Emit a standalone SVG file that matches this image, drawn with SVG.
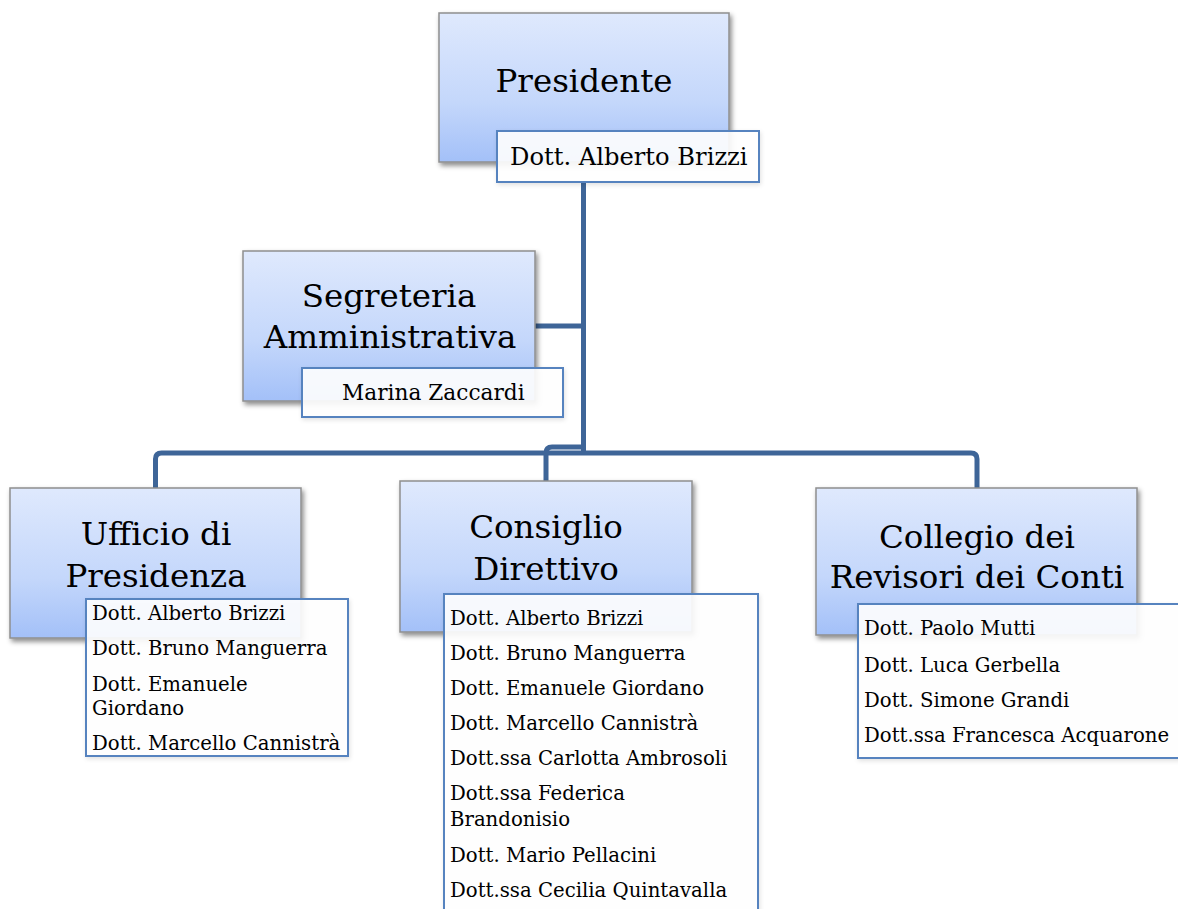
<svg xmlns="http://www.w3.org/2000/svg" width="1178" height="909" viewBox="0 0 1178 909">
<defs>
<linearGradient id="g" x1="0" y1="0" x2="0" y2="1">
<stop offset="0" stop-color="#dfe9fd"/>
<stop offset="0.6" stop-color="#c4d7fb"/>
<stop offset="1" stop-color="#a3c0f8"/>
</linearGradient>
<filter id="sh" x="-10%" y="-10%" width="125%" height="130%">
<feDropShadow dx="2" dy="3" stdDeviation="2.5" flood-color="#000" flood-opacity="0.45"/>
</filter>
<filter id="sh2" x="-10%" y="-10%" width="125%" height="130%">
<feDropShadow dx="1" dy="2" stdDeviation="2" flood-color="#000" flood-opacity="0.12"/>
</filter>
</defs>
<style>
.box{fill:url(#g);stroke:#8f8f8f;stroke-width:1.5;filter:url(#sh)}
.lbl{fill:#ffffff;fill-opacity:0.9;stroke:#5683bf;stroke-width:2;filter:url(#sh2)}
.t{font-family:"DejaVu Serif",serif;font-size:32.5px;fill:#000;text-anchor:middle}
.m{font-family:"DejaVu Serif",serif;font-size:19.7px;fill:#000}
.c{fill:none;stroke:#3e6598;stroke-width:5;stroke-linejoin:round}
</style>
<rect width="1178" height="909" fill="#fff"/>
<g id="connectors">
<path class="c" d="M583.5,182 V453"/>
<path class="c" d="M535,326 H583.5"/>
<path class="c" d="M583.5,447 H552 Q546,447 546,453 V481"/>
<path class="c" d="M155.5,488 V459 Q155.5,453 161.5,453 H971 Q977,453 977,459 V488"/>
</g>
<g id="presidente">
<rect class="box" x="439" y="13" width="290" height="149"/>
<text class="t" x="584" y="92">Presidente</text>
<rect class="lbl" x="497" y="131" width="262" height="51"/>
<text class="m" x="510" y="165" style="font-size:24.2px">Dott. Alberto Brizzi</text>
</g>
<g id="segreteria">
<rect class="box" x="243" y="251" width="292" height="150"/>
<text class="t" x="389" y="307">Segreteria</text>
<text class="t" x="390" y="348">Amministrativa</text>
<rect class="lbl" x="302" y="368" width="261" height="49"/>
<text class="m" x="342" y="400" style="font-size:21.7px">Marina Zaccardi</text>
</g>
<g id="ufficio">
<rect class="box" x="10" y="488" width="291" height="150"/>
<text class="t" x="156" y="545">Ufficio di</text>
<text class="t" x="156" y="587">Presidenza</text>
<rect class="lbl" x="86" y="599" width="262" height="157"/>
<text class="m" x="92" y="620">Dott. Alberto Brizzi</text>
<text class="m" x="92" y="655">Dott. Bruno Manguerra</text>
<text class="m" x="92" y="691">Dott. Emanuele</text>
<text class="m" x="92" y="715">Giordano</text>
<text class="m" x="92" y="750">Dott. Marcello Cannistrà</text>
</g>
<g id="consiglio">
<rect class="box" x="400" y="481" width="292" height="151"/>
<text class="t" x="546" y="538">Consiglio</text>
<text class="t" x="546" y="580">Direttivo</text>
<rect class="lbl" x="444" y="594" width="314" height="330"/>
<text class="m" x="450" y="625">Dott. Alberto Brizzi</text>
<text class="m" x="450" y="660">Dott. Bruno Manguerra</text>
<text class="m" x="450" y="695">Dott. Emanuele Giordano</text>
<text class="m" x="450" y="730">Dott. Marcello Cannistrà</text>
<text class="m" x="450" y="765">Dott.ssa Carlotta Ambrosoli</text>
<text class="m" x="450" y="800">Dott.ssa Federica</text>
<text class="m" x="450" y="826">Brandonisio</text>
<text class="m" x="450" y="862">Dott. Mario Pellacini</text>
<text class="m" x="450" y="897">Dott.ssa Cecilia Quintavalla</text>
</g>
<g id="collegio">
<rect class="box" x="816" y="488" width="321" height="147"/>
<text class="t" x="977" y="548">Collegio dei</text>
<text class="t" x="977" y="588">Revisori dei Conti</text>
<rect class="lbl" x="858" y="604" width="330" height="154"/>
<text class="m" x="864" y="635">Dott. Paolo Mutti</text>
<text class="m" x="864" y="672">Dott. Luca Gerbella</text>
<text class="m" x="864" y="707">Dott. Simone Grandi</text>
<text class="m" x="864" y="742">Dott.ssa Francesca Acquarone</text>
</g>
</svg>
